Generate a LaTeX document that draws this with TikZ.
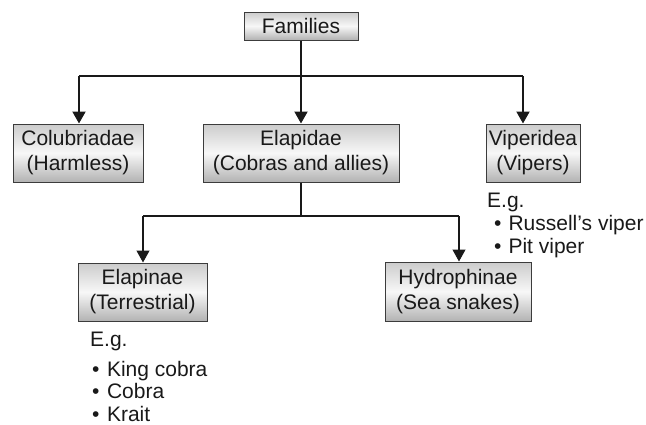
\documentclass[tikz,border=0pt]{standalone}
\usepackage{fontspec}
\setmainfont{Liberation Sans}
\usetikzlibrary{arrows.meta}
\definecolor{edgecol}{RGB}{60,60,60}
\definecolor{txtcol}{RGB}{25,25,25}
\tikzset{
  famnode/.style={draw=edgecol, line width=1pt, top color=gray!40, bottom color=gray!60, middle color=gray!6,
    inner sep=0pt, align=center, font=\fontsize{21}{25}\selectfont, text=txtcol},
  listtext/.style={anchor=base west, inner sep=0pt, font=\fontsize{21}{25}\selectfont, text=txtcol},
  thickarr/.style={line width=2pt, draw=black!90, -{Triangle[width=13pt,length=12pt]}},
  thinarr/.style={line width=1.2pt, draw=black!90, -{Triangle[width=13pt,length=12pt]}},
  thickline/.style={line width=2pt, draw=black!90},
  thinline/.style={line width=1.2pt, draw=black!90},
}
\begin{document}
\begin{tikzpicture}[x=1pt,y=-1pt]
\useasboundingbox (0,0) rectangle (646,424);
% boxes
\node[famnode, minimum width=114pt, minimum height=28pt] (fam) at (301,26) {Families};
\node[famnode, minimum width=130pt, minimum height=58pt] (col) at (78,153) {Colubriadae\\(Harmless)};
\node[famnode, minimum width=196pt, minimum height=58pt] (ela) at (301,153) {Elapidae\\(Cobras and allies)};
\node[famnode, minimum width=94pt, minimum height=58pt] (vip) at (533,153) {Viperidea\\(Vipers)};
\node[famnode, minimum width=129pt, minimum height=58pt] (elp) at (142.5,292) {Elapinae\\(Terrestrial)};
\node[famnode, minimum width=146pt, minimum height=59pt] (hyd) at (458,291.5) {Hydrophinae\\(Sea snakes)};
% bus coordinates
\coordinate (b0) at (301,76);
\coordinate (bl) at (79,76);
\coordinate (br) at (523,76);
\coordinate (c0) at (301,216);
\coordinate (cl) at (143,216);
\coordinate (cr) at (459,216);
% connectors level 1
\draw[thickline] (fam.south) -- (b0);
\draw[thickline] (bl) -- (br);
\draw[thickarr] (bl) -- (bl |- col.north);
\draw[thickarr] (b0) -- (ela.north);
\draw[thickarr] (br) -- (br |- vip.north);
% connectors level 2
\draw[thinline] (ela.south) -- (c0);
\draw[thinline] (cl) -- (cr);
\draw[thinarr] (cl) -- (cl |- elp.north);
\draw[thinarr] (cr) -- (cr |- hyd.north);
% lists
\node[listtext] (veg) at (487,207) {E.g.};
\node[listtext] (v1) at (494,230) {•\hspace{7pt}Russell’s viper};
\node[listtext] (v2) at (494,253) {•\hspace{7pt}Pit viper};
\node[listtext] (eeg) at (90,346) {E.g.};
\node[listtext] (e1) at (92,376) {•\hspace{7.5pt}King cobra};
\node[listtext] (e2) at (92,398) {•\hspace{7.5pt}Cobra};
\node[listtext] (e3) at (92,421) {•\hspace{7.5pt}Krait};
\end{tikzpicture}
\end{document}
